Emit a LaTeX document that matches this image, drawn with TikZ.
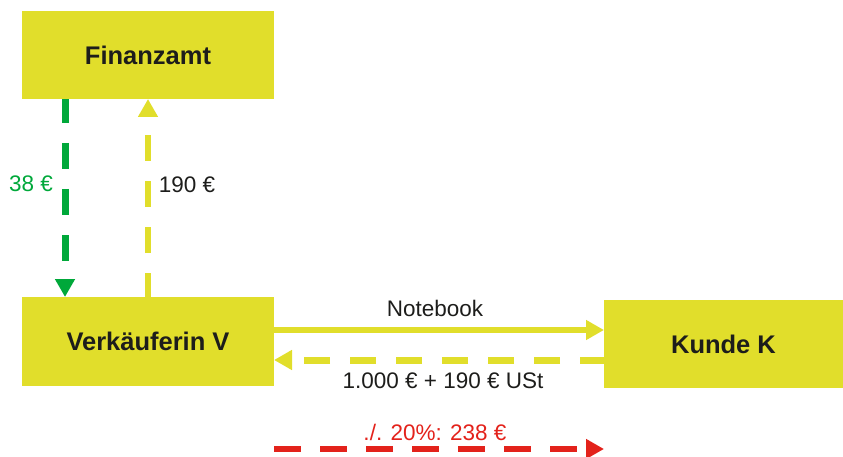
\documentclass[tikz,border=0pt]{standalone}
\usepackage{fontspec}
\setmainfont{Liberation Sans}
\usetikzlibrary{arrows.meta}
\definecolor{boxyel}{HTML}{E1DE2B}
\definecolor{flowgreen}{HTML}{00A83A}
\definecolor{flowred}{HTML}{E3221B}
\definecolor{txt}{HTML}{1D1D1B}
\tikzset{
  box/.style={fill=boxyel, draw=none, inner sep=0pt, outer sep=0pt, text=txt,
    font=\fontsize{25.5}{30}\selectfont\bfseries},
  lbl/.style={inner sep=0pt, text=txt, font=\fontsize{22.5}{27}\selectfont},
  tip/.style={-{Triangle[length=18pt,width=19pt]}},
  flowdash/.style={dash pattern=on 26pt off 20pt},
}
\begin{document}
\begin{tikzpicture}[x=1pt,y=-1pt]
\useasboundingbox (0,0) rectangle (843,457);
\node[box, minimum width=252pt, minimum height=88pt] (fa) at (148,55) {Finanzamt};
\node[box, minimum width=252pt, minimum height=89pt] (vk) at (148,341.5) {Verkäuferin V};
\node[box, minimum width=239pt, minimum height=88pt] (ku) at (723.5,344) {Kunde K};
% Finanzamt -> Verkaeuferin (green)
\draw[tip, flowdash, dash phase=2pt, flowgreen, line width=7pt]
  ([xshift=-83pt]fa.south) -- ([xshift=-83pt]vk.north);
% Verkaeuferin -> Finanzamt (yellow)
\draw[tip, flowdash, dash phase=2pt, boxyel, line width=6pt]
  (vk.north) -- (fa.south);
% Notebook
\draw[tip, boxyel, line width=6pt]
  ([yshift=11.5pt]vk.east) -- ([yshift=11.5pt]vk.east -| ku.west);
% payment back
\draw[tip, flowdash, dash phase=2pt, boxyel, line width=7pt]
  ([yshift=-16pt]ku.west) -- ([yshift=-16pt]ku.west -| vk.east);
% red
\coordinate (r1) at ([yshift=-63pt]vk.south east);
\draw[tip, dash pattern=on 27pt off 19pt, flowred, line width=6pt]
  (r1) -- (r1 -| ku.west);
% labels
\node[lbl, text=flowgreen] (l38) at (31,184) {38 €};
\node[lbl] (l190) at (187,185) {190 €};
\node[lbl] (lnb) at (435,308) {Notebook};
\node[lbl] (lpay) at (443,381) {1.000 € + 190 € USt};
\node[lbl, text=flowred] (lred) at (435,432) {./. 20\%: 238 €};
\end{tikzpicture}
\end{document}
